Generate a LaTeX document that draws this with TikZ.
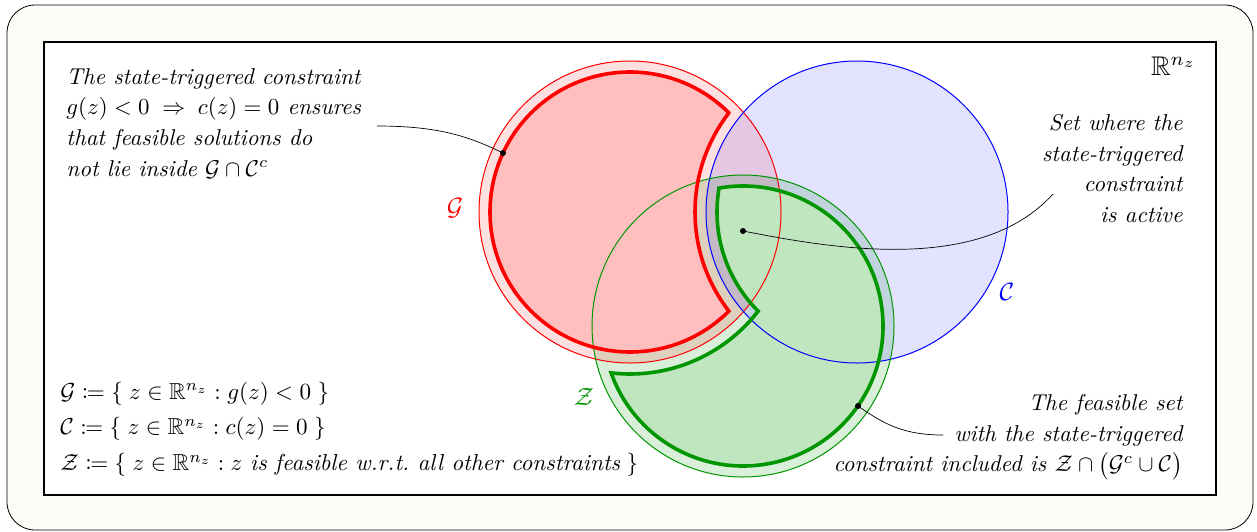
\documentclass[tikz,border=0pt]{standalone}
\usepackage{amsmath,amssymb,mathtools}
\usepackage{tikz}
\definecolor{paper}{RGB}{251,252,245}
\definecolor{gset}{RGB}{255,0,0}
\definecolor{cset}{RGB}{0,0,255}
\definecolor{zset}{RGB}{0,150,0}
\definecolor{gfill}{RGB}{255,191,191}
\definecolor{zfill}{RGB}{192,230,192}

\begin{document}
\begin{tikzpicture}[x=1pt,y=-1pt,
  notetext/.style={font=\itshape\fontsize{10}{13.36}\selectfont,inner sep=0pt,
    scale=2.29,transform shape},
  deftext/.style={font=\fontsize{10}{15.4}\selectfont,inner sep=0pt,
    scale=2.31,transform shape},
  setlabel/.style={font=\fontsize{10}{12}\selectfont,inner sep=0pt,
    scale=2.5,transform shape},
  setline/.style={line width=1pt},
  edgeline/.style={line width=3.6pt,line join=miter},
  pointer/.style={black,line width=0.7pt},
  tipdot/.style={circle,fill=black,inner sep=0pt,minimum size=6pt}]
  \useasboundingbox (0,0) rectangle (1257,531);
  \draw[black,line width=0.8pt,fill=paper,rounded corners=28pt] (7,5) rectangle (1253,530);
  \draw[black,line width=1.6pt,fill=white] (44,42) rectangle (1216,495);

  \coordinate (Gc) at (630,212);
  \coordinate (Cc) at (857,212);
  \coordinate (Zc) at (743,326);

  % light bands of the three sets
  \fill[zset,fill opacity=0.15] (Zc) circle[radius=151];
  \fill[gset,fill opacity=0.12] (Gc) circle[radius=151];
  \fill[cset,fill opacity=0.11] (Cc) circle[radius=151];

  % G minus C, and Z with the state-triggered constraint
  \fill[gfill] (728.87,112.88) arc[start angle=-45.07,end angle=-314.93,radius=140]
    arc[start angle=142.28,end angle=217.72,radius=162] -- cycle;
  \fill[zfill] (719.06,188.06) arc[start angle=-99.85,end angle=160.43,radius=140]
    arc[start angle=96.70,end angle=37.73,radius=162]
    arc[start angle=134.93,end angle=189.85,radius=140] -- cycle;

  \draw[gset,setline] (Gc) circle[radius=151];
  \draw[cset,setline] (Cc) circle[radius=151];
  \draw[zset,setline] (Zc) circle[radius=151];

  \draw[gset,edgeline] (728.87,112.88) arc[start angle=-45.07,end angle=-314.93,radius=140]
    arc[start angle=142.28,end angle=217.72,radius=162] -- cycle;
  \draw[zset,edgeline] (719.06,188.06) arc[start angle=-99.85,end angle=160.43,radius=140]
    arc[start angle=96.70,end angle=37.73,radius=162]
    arc[start angle=134.93,end angle=189.85,radius=140] -- cycle;

  \node[setlabel,text=gset] (glabel) at (455,208) {$\mathcal{G}$};
  \node[setlabel,text=cset] (clabel) at (1007,292) {$\mathcal{C}$};
  \node[setlabel,text=zset] (zlabel) at (584,397) {$\mathcal{Z}$};
  \node[setlabel,anchor=base east,scale=1.08] (space) at (1197,75) {$\mathbb{R}^{n_z}$};

  \node[notetext,anchor=north west,align=left] (trignote) at (66,68)
    {The state-triggered constraint\\
     $g(z)<0 \;\Rightarrow\; c(z)=0$ ensures\\
     that feasible solutions do\\
     not lie inside $\mathcal{G}\cap\mathcal{C}^c$};
  \node[notetext,anchor=north east,align=right] (activenote) at (1183,114)
    {Set where the\\ state-triggered\\ constraint\\ is active};
  \node[notetext,anchor=north east,align=right] (feasnote) at (1183,394)
    {The feasible set\\ with the state-triggered\\
     constraint included is $\mathcal{Z}\cap\big(\mathcal{G}^c\cup\mathcal{C}\big)$};
  \node[deftext,anchor=north west,align=left] (defs) at (60,381.5)
    {$\mathcal{G}\coloneqq\{\;z\in\mathbb{R}^{n_z}:g(z)<0\;\}$\\
     $\mathcal{C}\coloneqq\{\;z\in\mathbb{R}^{n_z}:c(z)=0\;\}$\\
     $\mathcal{Z}\coloneqq\{\;z\in\mathbb{R}^{n_z}:z\text{ \itshape is feasible w.r.t.\ all other constraints}\;\}$};

  \node[tipdot] (gdot) at (503,153) {};
  \node[tipdot] (adot) at (743,231) {};
  \node[tipdot] (fdot) at (858,406) {};
  \coordinate (trigend) at (377,126);
  \coordinate (activeend) at (1053,194);
  \coordinate (feasend) at (943,435);

  \draw[pointer] (trigend) .. controls (440,126) and (470,137) .. (gdot.center);
  \draw[pointer] (adot.center) .. controls (830,248) and (980,275) .. (activeend);
  \draw[pointer] (fdot.center) .. controls (885,425) and (905,435) .. (feasend);
\end{tikzpicture}
\end{document}
